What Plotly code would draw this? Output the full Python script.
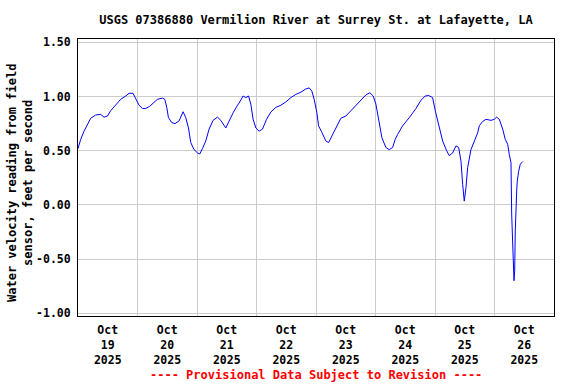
import pandas as pd
import plotly.graph_objects as go

# Hours since 2025-10-19 00:00 (local) and water velocity, ft/s
hours = [0.0, 1.09, 2.42, 3.79, 5.13, 7.14, 9.16, 10.49, 11.87, 13.20, 15.22, 17.24,
         19.25, 20.59, 22.20, 23.29, 24.62, 25.99, 27.33, 28.94, 30.68, 32.05, 34.07,
         35.0, 35.80, 36.49, 37.82, 39.15, 40.77, 42.38, 43.47, 44.56, 45.49, 46.82,
         48.19, 49.12, 50.21, 51.54, 52.88, 54.49, 56.27, 57.60, 59.62, 60.95, 62.56,
         64.34, 64.99, 66.60, 67.69, 68.78, 69.71, 70.64, 71.73, 73.06, 74.43, 76.04,
         77.78, 79.80, 81.82, 83.83, 85.85, 87.87, 89.89, 91.90, 93.24, 94.33, 95.26,
         96.35, 97.03, 98.36, 99.98, 101.07, 102.40, 104.01, 106.03, 108.05, 110.07,
         112.08, 114.10, 116.12, 117.73, 119.07, 120.16, 121.25, 122.58, 124.19,
         125.53, 126.90, 127.95, 128.92, 130.94, 133.60, 136.31, 138.32, 140.06,
         141.43, 143.05, 144.10, 145.47, 147.08, 148.70, 149.75, 151.12, 152.45,
         153.54, 154.47, 155.16, 155.80, 156.49, 157.17, 158.50, 159.84, 161.21,
         161.86, 163.23, 164.56, 166.58, 167.91, 168.88, 169.93, 171.30, 172.35,
         173.32, 173.96, 174.65, 174.93, 175.58, 175.86, 176.14, 176.38, 176.95,
         177.19, 177.75, 178.40, 179.37]
velocity = [0.52, 0.605, 0.68, 0.74, 0.80, 0.83, 0.835, 0.81, 0.82, 0.87, 0.92, 0.975,
            1.005, 1.03, 1.03, 0.985, 0.92, 0.89, 0.89, 0.91, 0.945, 0.975, 0.985,
            0.975, 0.90, 0.805, 0.76, 0.75, 0.775, 0.86, 0.805, 0.71, 0.575, 0.51,
            0.48, 0.47, 0.52, 0.59, 0.70, 0.78, 0.81, 0.78, 0.71, 0.78, 0.85,
            0.92, 0.94, 1.005, 0.99, 1.005, 0.93, 0.79, 0.71, 0.68, 0.70, 0.79,
            0.857, 0.90, 0.92, 0.95, 0.99, 1.02, 1.04, 1.07, 1.08, 1.05, 0.975,
            0.85, 0.73, 0.67, 0.59, 0.575, 0.635, 0.71, 0.80, 0.82, 0.87,
            0.92, 0.975, 1.015, 1.035, 1.005, 0.93, 0.775, 0.62, 0.53,
            0.51, 0.53, 0.605, 0.65, 0.73, 0.805, 0.89, 0.965, 1.005,
            1.01, 0.99, 0.87, 0.73, 0.59, 0.50, 0.455, 0.48, 0.545,
            0.53, 0.405, 0.19, 0.035, 0.16, 0.345, 0.51, 0.59, 0.665,
            0.73, 0.77, 0.79, 0.78, 0.79, 0.81, 0.79, 0.70, 0.605,
            0.56, 0.465, 0.39, -0.085, -0.58, -0.70, -0.61, -0.24, 0.13,
            0.22, 0.31, 0.375, 0.40]

start = pd.Timestamp("2025-10-19 00:00")
times = [start + pd.Timedelta(hours=h) for h in hours]

day_labels = ["19", "20", "21", "22", "23", "24", "25", "26"]
label_pos = [pd.Timestamp(f"2025-10-{d} 12:00") for d in day_labels]
label_text = [f"Oct<br>{d}<br>2025" for d in day_labels]

y_ticks = [-1.0, -0.5, 0.0, 0.5, 1.0, 1.5]
y_text = ["-1.00", "-0.50", "0.00", "0.50", "1.00", "1.50"]

FONT = "DejaVu Sans Mono"
PLOT_L, PLOT_R, PLOT_T, PLOT_B = 78, 554, 39, 316
PW, PH = PLOT_R - PLOT_L, PLOT_B - PLOT_T

fig = go.Figure()
fig.add_trace(go.Scatter(x=times, y=velocity, mode="lines",
                         line=dict(color="#0000FF", width=1), showlegend=False))

fig.update_layout(
    width=576, height=384,
    margin=dict(l=PLOT_L, r=576 - PLOT_R, t=PLOT_T, b=384 - PLOT_B, autoexpand=False),
    paper_bgcolor="white", plot_bgcolor="white",
    title=dict(text="USGS 07386880 Vermilion River at Surrey St. at Lafayette, LA",
               x=0.5, xref="paper", y=1 - 20 / 384, yref="container",
               yanchor="middle", automargin=False,
               font=dict(family=FONT, size=12, color="black", weight="bold")),
    font=dict(family=FONT, color="black"),
)

fig.update_xaxes(
    range=[pd.Timestamp("2025-10-19 00:00"), pd.Timestamp("2025-10-27 00:00")],
    tickmode="array", tickvals=label_pos, ticktext=label_text,
    showgrid=False, ticks="", zeroline=False, automargin=False,
    ticklabelstandoff=3,
    tickfont=dict(family=FONT, size=11.5, color="black", weight="bold"),
    minor=dict(dtick=86400000, tick0="2025-10-19", showgrid=True,
               gridcolor="#CCCCCC", gridwidth=1, ticks=""),
    showline=True, linecolor="black", linewidth=1, mirror=True,
)

fig.update_yaxes(
    range=[-1.025, 1.531],
    tickmode="array", tickvals=y_ticks, ticktext=y_text,
    showgrid=True, gridcolor="#CCCCCC", gridwidth=1, ticks="",
    zeroline=False, automargin=False, ticklabelstandoff=4,
    tickfont=dict(family=FONT, size=11.5, color="black", weight="bold"),
    showline=True, linecolor="black", linewidth=1, mirror=True,
)

fig.add_annotation(
    text="Water velocity reading from field<br>sensor, feet per second",
    textangle=-90, xref="paper", x=(20 - PLOT_L) / PW, xanchor="center",
    yref="paper", y=(PLOT_B - 183) / PH, yanchor="middle", showarrow=False,
    font=dict(family=FONT, size=12, color="black", weight="bold"),
)

fig.add_annotation(
    text="---- Provisional Data Subject to Revision ----",
    xref="paper", x=0.5, yref="paper", y=-(375 - PLOT_B) / PH,
    yanchor="middle", showarrow=False,
    font=dict(family=FONT, size=12, color="#FF0000", weight="bold"),
)

fig.write_html("out.html", config={"displayModeBar": False},
               post_script="document.body.style.margin='0px';")
